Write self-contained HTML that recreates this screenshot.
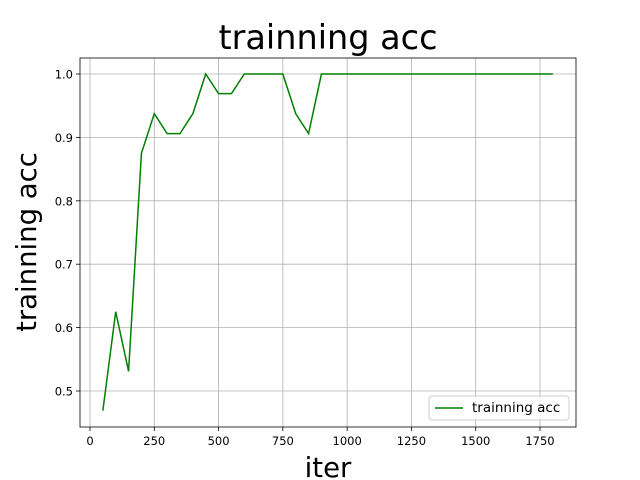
<!DOCTYPE html>
<html><head><meta charset="utf-8"><style>body{margin:0;background:#fff}svg{display:block}text{font-family:"DejaVu Sans","Liberation Sans",sans-serif}</style></head>
<body>
<svg id="chart" width="640" height="480" xmlns="http://www.w3.org/2000/svg"></svg>
<script>
const iters=[50,100,150,200,250,300,350,400,450,500,550,600,650,700,750,800,850,900,950,1000,1050,1100,1150,1200,1250,1300,1350,1400,1450,1500,1550,1600,1650,1700,1750,1800];
const acc=[0.469,0.625,0.531,0.875,0.9375,0.906,0.906,0.9375,1.0,0.969,0.969,1.0,1.0,1.0,1.0,0.9375,0.906,1.0,1,1,1,1,1,1,1,1,1,1,1,1,1,1,1,1,1,1];
const xTicks=[0,250,500,750,1000,1250,1500,1750];
const yTicks=[0.5,0.6,0.7,0.8,0.9,1.0];
const L=80,R=576,T=58,B=427;
const X=v=>90+v*(540-90)/1750;
const Y=v=>391-(v-0.5)*(391-74)/0.5;
const s=document.getElementById('chart');const NS='http://www.w3.org/2000/svg';
function el(t,a,p){const e=document.createElementNS(NS,t);for(const k in a)e.setAttribute(k,a[k]);(p||s).appendChild(e);return e;}
xTicks.forEach(v=>{const x=X(v);
const g=el('line',{x1:x,x2:x,y1:T,y2:B,stroke:'#b0b0b0','stroke-width':0.8});


el('line',{x1:x,x2:x,y1:B,y2:B+4,stroke:'#000','stroke-width':0.8});
const t=el('text',{x:x,y:B+18,'text-anchor':'middle','font-size':11.5});t.textContent=v;

});
yTicks.forEach(v=>{const y=Y(v);
const g=el('line',{x1:L,x2:R,y1:y,y2:y,stroke:'#b0b0b0','stroke-width':0.8});


el('line',{x1:L-4,x2:L,y1:y,y2:y,stroke:'#000','stroke-width':0.8});
const t=el('text',{x:L-7,y:y+4.5,'text-anchor':'end','font-size':11.5});t.textContent=v.toFixed(1);

});
const p=el('polyline',{points:iters.map((v,i)=>X(v)+','+Y(acc[i])).join(' '),fill:'none',stroke:'#008000','stroke-width':1.5});


const f=el('rect',{x:L,y:T,width:R-L,height:B-T,fill:'none',stroke:'#000','stroke-width':0.8});


</script>
<svg style="position:absolute;left:0;top:0" width="640" height="480" xmlns="http://www.w3.org/2000/svg">
<text x="328" y="49" text-anchor="middle" font-size="33.5">trainning acc</text>
<text x="328" y="477" text-anchor="middle" font-size="27.5">iter</text>
<text transform="translate(36,242) rotate(-90)" text-anchor="middle" font-size="27.5">trainning acc</text>
<g>
<rect x="429" y="396" width="140" height="24" rx="3" fill="#fff" fill-opacity="0.8" stroke="#ccc"/>
<line x1="435" x2="463" y1="408" y2="408" stroke="#008000" stroke-width="1.5"/>
<text x="472" y="412" font-size="13.5">trainning acc</text>
</g>
</svg>
</body></html>
